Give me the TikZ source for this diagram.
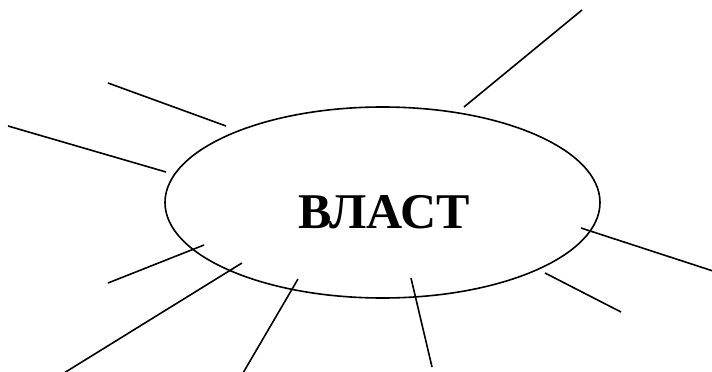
\documentclass[tikz,border=0pt]{standalone}
\usepackage{fontspec}
\setmainfont{Liberation Serif}
\usetikzlibrary{shapes.geometric}
\begin{document}
\begin{tikzpicture}[x=1pt,y=-1pt,
  ray/.style={draw=black,line width=1.6pt},
  oval/.style={ellipse,draw=black,line width=1.6pt,minimum width=435pt,minimum height=191pt,inner sep=0pt}]
\useasboundingbox (0,0) rectangle (712,372);
\node[oval] (e) at (382.5,202.5) {};
\node[font=\fontsize{50}{60}\selectfont\bfseries,inner sep=0pt] (t) at (384,212) {ВЛАСТ};
\coordinate (a1) at (464,107); \coordinate (b1) at (582,10);
\coordinate (a2) at (226,126); \coordinate (b2) at (108,83);
\coordinate (a3) at (166,172); \coordinate (b3) at (8,126);
\coordinate (a4) at (204,245); \coordinate (b4) at (108,283);
\coordinate (a5) at (242,263); \coordinate (b5) at (64,373);
\coordinate (a6) at (298,279); \coordinate (b6) at (243,373);
\coordinate (a7) at (411,278); \coordinate (b7) at (432,367);
\coordinate (a8) at (545,273); \coordinate (b8) at (621,312);
\coordinate (a9) at (581,228); \coordinate (b9) at (713,271);
\foreach \i in {1,...,9} \draw[ray] (a\i) -- (b\i);
\end{tikzpicture}
\end{document}
